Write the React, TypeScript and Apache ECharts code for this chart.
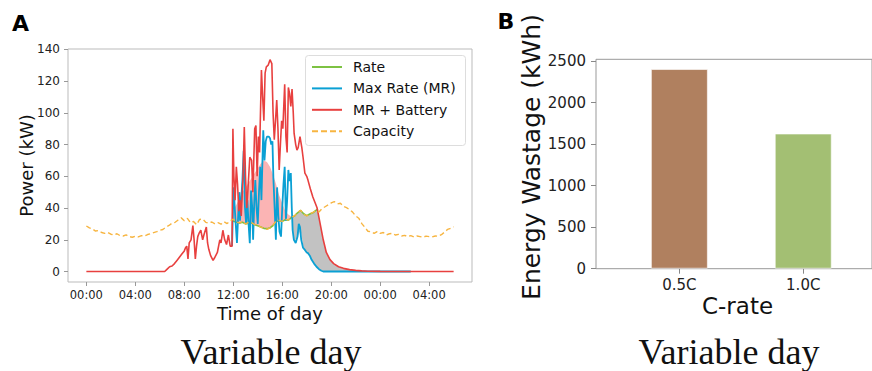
import React, { useEffect, useRef } from "react";
import * as echarts from "echarts";

// ---------- Panel A data ----------
const timeTicks = [0, 4, 8, 12, 16, 20, 24, 28];
const timeTickLabels = ["00:00", "04:00", "08:00", "12:00", "16:00", "20:00", "00:00", "04:00"];
const powerTicks = [0, 20, 40, 60, 80, 100, 120, 140];

const rateData = [
  [11.95, 32], [12.25, 31], [12.5, 30.5], [12.75, 31], [13, 30], [13.25, 30.5], [13.5, 30.5],
  [13.75, 29.5], [14, 28.8], [14.25, 28], [14.5, 27.2], [14.75, 27], [15, 27.5], [15.25, 29],
  [15.5, 31.5], [15.75, 32], [16, 31.6], [16.25, 32.6], [16.5, 32.4], [16.75, 34], [17, 35],
  [17.25, 37], [17.5, 38.5], [17.75, 36.4], [18, 35.2], [18.25, 36.2], [18.5, 37], [18.75, 38.5],
  [18.9, 39.5],
];

const maxRateData = [
  [11.9, 16], [11.97, 38], [12.05, 53], [12.12, 40], [12.2, 30], [12.3, 18], [12.4, 35], [12.5, 50],
  [12.55, 32], [12.65, 45], [12.75, 58], [12.85, 76], [12.95, 41], [13.05, 30], [13.15, 45],
  [13.25, 30], [13.35, 17.8], [13.45, 51], [13.55, 40], [13.62, 20], [13.72, 45], [13.8, 57.6],
  [13.9, 40], [14.0, 30], [14.1, 50], [14.2, 66], [14.3, 45], [14.4, 75], [14.45, 89], [14.55, 70],
  [14.65, 82], [14.75, 85], [14.9, 85], [15.0, 84], [15.1, 80], [15.2, 82], [15.28, 58], [15.38, 40],
  [15.48, 20], [15.58, 53], [15.68, 35], [15.78, 25], [15.9, 22], [16.0, 40], [16.1, 55], [16.2, 66],
  [16.3, 32], [16.4, 45], [16.5, 64], [16.6, 57], [16.7, 62], [16.78, 40], [16.85, 26], [16.95, 20],
  [17.1, 18], [17.25, 22], [17.35, 30], [17.45, 28], [17.55, 20], [17.7, 15], [17.85, 13.6],
  [18.0, 12], [18.1, 11.6], [18.25, 10], [18.4, 7.4], [18.6, 5], [18.8, 3], [19.0, 1.5], [19.2, 0.5],
  [19.35, 0], [26.5, 0],
];

const mrBatteryData = [
  [0, 0], [6.4, 0], [6.6, 1.5], [6.8, 3], [7.0, 3.5], [7.2, 5], [7.4, 7], [7.6, 9], [7.8, 11], [8.0, 13],
  [8.1, 15], [8.2, 16], [8.3, 8], [8.4, 18], [8.55, 20], [8.7, 29], [8.8, 20], [8.9, 8], [9.0, 16],
  [9.1, 22], [9.2, 24], [9.35, 26], [9.5, 20], [9.6, 23], [9.8, 28], [9.9, 18], [10.0, 14], [10.15, 10],
  [10.35, 7], [10.5, 9], [10.7, 12], [10.9, 20], [11.0, 18], [11.15, 26], [11.3, 20], [11.45, 17],
  [11.6, 23], [11.75, 16], [11.9, 16], [11.97, 90], [12.05, 60], [12.15, 45], [12.25, 66], [12.35, 55],
  [12.45, 38], [12.55, 45], [12.65, 35], [12.8, 60], [12.9, 91], [13.0, 60], [13.1, 40], [13.2, 52],
  [13.35, 72], [13.5, 70], [13.6, 50], [13.75, 90], [13.85, 92], [13.95, 60], [14.05, 85], [14.15, 75],
  [14.3, 127], [14.4, 110], [14.5, 95], [14.6, 125], [14.7, 129], [14.85, 130], [15.0, 133.5],
  [15.15, 131], [15.25, 100], [15.35, 83], [15.45, 95], [15.55, 108], [15.65, 90], [15.75, 64],
  [15.85, 80], [15.95, 95], [16.05, 90], [16.2, 118], [16.3, 85], [16.4, 75], [16.5, 116], [16.6, 112],
  [16.7, 104], [16.8, 115], [16.9, 100], [16.97, 87], [17.1, 80], [17.2, 76.5], [17.3, 78], [17.45, 85],
  [17.6, 78], [17.7, 72], [17.85, 62], [18.0, 60], [18.1, 57.6], [18.3, 52], [18.5, 47], [18.7, 43],
  [18.85, 40], [19.0, 34], [19.15, 28], [19.35, 20], [19.6, 12], [19.9, 7.5], [20.2, 5], [20.6, 3],
  [21.0, 2], [21.5, 1.2], [22.0, 0.7], [22.5, 0.4], [23.0, 0.2], [24.0, 0.1], [26.0, 0], [30.0, 0],
];

const capacityData = [
  [0, 28.7], [0.25, 27.5], [0.5, 26.8], [0.75, 25.5], [1, 25.8], [1.25, 24.6], [1.5, 24.0], [1.75, 24.6],
  [2, 23.5], [2.25, 23.0], [2.5, 23.8], [2.75, 22.6], [3, 22.4], [3.25, 23.1], [3.5, 22.0], [3.75, 21.6],
  [4, 22.3], [4.25, 21.8], [4.5, 22.6], [4.75, 22.4], [5, 23.3], [5.25, 23.8], [5.5, 24.5], [5.75, 25.1],
  [6, 26.0], [6.25, 26.5], [6.5, 28.0], [6.75, 29.0], [7, 30.5], [7.25, 31.0], [7.5, 32.5], [7.75, 33.8],
  [8, 32.0], [8.25, 33.5], [8.5, 30.8], [8.75, 31.5], [9, 29.5], [9.25, 32.8], [9.5, 33.0], [9.75, 31.0],
  [10, 30.6], [10.25, 31.2], [10.5, 30.0], [10.75, 30.8], [11, 29.8], [11.25, 31.4], [11.5, 30.2],
  [11.75, 32.0], [12, 33.0], [12.25, 31.2], [12.5, 30.6], [12.75, 31.5], [13, 30.0], [13.25, 31.0],
  [13.5, 30.8], [13.75, 29.6], [14, 29.0], [14.25, 28.0], [14.5, 27.2], [14.75, 26.6], [15, 27.5],
  [15.25, 29.2], [15.5, 31.8], [15.75, 32.2], [16, 31.6], [16.25, 33.0], [16.5, 32.4], [16.75, 34.2],
  [17, 35.0], [17.25, 37.0], [17.5, 38.6], [17.75, 36.2], [18, 35.0], [18.25, 36.4], [18.5, 37.2],
  [18.75, 38.4], [19, 37.5], [19.25, 39.6], [19.5, 40.8], [19.75, 42.0], [20, 43.2], [20.25, 44.0],
  [20.5, 42.6], [20.75, 43.0], [21, 41.0], [21.25, 40.2], [21.5, 39.0], [21.75, 37.4], [22, 35.0],
  [22.25, 33.6], [22.5, 30.2], [22.75, 27.8], [23, 25.4], [23.25, 25.0], [23.5, 24.1], [23.75, 25.2],
  [24, 24.0], [24.25, 24.6], [24.5, 23.0], [24.75, 23.8], [25, 24.1], [25.25, 23.0], [25.5, 23.4],
  [25.75, 22.4], [26, 22.8], [26.25, 22.0], [26.5, 22.6], [26.75, 21.8], [27, 22.4], [27.25, 22.0],
  [27.5, 21.6], [27.75, 22.3], [28, 22.0], [28.25, 21.8], [28.5, 22.4], [28.75, 22.2], [29, 23.2],
  [29.25, 24.8], [29.5, 26.5], [29.75, 27.2], [30, 28.2],
];

// shaded regions
const pinkUpper = [
  [11.95, 38], [12.25, 42], [12.5, 46], [12.75, 50], [13, 53], [13.25, 56], [13.5, 59], [13.75, 62],
  [14, 65], [14.25, 68], [14.5, 70], [14.75, 69], [15, 66], [15.25, 61], [15.5, 55], [15.75, 48],
  [16, 43], [16.25, 38], [16.5, 36], [16.75, 34.5], [16.9, 34],
];
const pinkLower = [
  [11.95, 32], [12.25, 31], [12.5, 30.5], [12.75, 31], [13, 30], [13.25, 30.5], [13.5, 30.5],
  [13.75, 29.5], [14, 28.8], [14.25, 28], [14.5, 27.2], [14.75, 27], [15, 27.5], [15.25, 29],
  [15.5, 31.5], [15.75, 32], [16, 31.6], [16.25, 32.6], [16.5, 32.4], [16.75, 34], [16.9, 34],
];
const grayUpper = [
  [16.85, 34], [17.0, 35], [17.25, 37], [17.5, 38.5], [17.75, 36.4], [18.0, 35.2], [18.25, 36.2],
  [18.5, 37], [18.75, 38.5], [18.9, 39.5], [19.0, 34], [19.15, 28], [19.35, 20], [19.6, 12],
  [19.9, 7.5], [20.2, 5], [20.6, 3], [21.0, 2], [21.5, 1.2], [22.0, 0.7], [22.5, 0.4],
];
const grayLower = [
  [16.85, 26], [17.0, 19], [17.25, 22], [17.5, 26], [17.75, 15], [18.0, 12], [18.25, 10],
  [18.5, 6], [18.75, 3.5], [18.9, 2.5], [19.0, 1.5], [19.15, 0.8], [19.35, 0], [19.6, 0],
  [19.9, 0], [20.2, 0], [20.6, 0], [21.0, 0], [21.5, 0], [22.0, 0], [22.5, 0],
];

// ---------- Panel B data ----------
const cRates = ["0.5C", "1.0C"];
const wastage = [2403, 1627];
const barColors = ["#b0805f", "#a3bf73"];
const wastageTicks = [0, 500, 1000, 1500, 2000, 2500];

const legendItems = [
  { name: "Rate", color: "#7dc243", dash: false },
  { name: "Max Rate (MR)", color: "#0aa0d4", dash: false },
  { name: "MR + Battery", color: "#e8403f", dash: false },
  { name: "Capacity", color: "#f7b541", dash: true },
];

const FONT = "DejaVu Sans";

export default function App() {
  const ref = useRef<HTMLDivElement>(null);

  useEffect(() => {
    const chart = echarts.init(ref.current!, null, { renderer: "svg" });

    const band = (upper: number[][], lower: number[][], color: string) => ({
      type: "custom",
      xAxisIndex: 0,
      yAxisIndex: 0,
      z: 1,
      silent: true,
      data: [upper[0]],
      renderItem: (_params: any, api: any) => {
        const pts = upper
          .map((p) => api.coord(p))
          .concat(lower.slice().reverse().map((p) => api.coord(p)));
        return { type: "polygon", shape: { points: pts }, style: { fill: color } };
      },
    });

    const lineSeries = (data: number[][], color: string, width: number, z: number, dash?: number[]) => ({
      type: "line",
      xAxisIndex: 0,
      yAxisIndex: 0,
      data,
      showSymbol: false,
      symbol: "none",
      z,
      lineStyle: { color, width, type: dash ? dash : "solid" },
      silent: true,
    });

    const legendY = [67, 88.4, 109.8, 131.2];
    const legendGraphics: any[] = [
      {
        type: "rect",
        shape: { x: 305.5, y: 55.5, width: 160, height: 90, r: 3 },
        style: { fill: "rgba(255,255,255,0.85)", stroke: "#dddddd", lineWidth: 1 },
        z: 100,
      },
    ];
    legendItems.forEach((it, i) => {
      legendGraphics.push({
        type: "line",
        shape: { x1: 312, y1: legendY[i], x2: 342, y2: legendY[i] },
        style: { stroke: it.color, lineWidth: 2, lineDash: it.dash ? [6, 3] : null },
        z: 101,
      });
      legendGraphics.push({
        type: "text",
        x: 353,
        y: legendY[i],
        style: { text: it.name, fontSize: 14, fontFamily: FONT, fill: "#111", align: "left", verticalAlign: "middle" },
        z: 101,
      });
    });

    const hiddenLine = { show: false, onZero: false };

    const option: any = {
      animation: false,
      textStyle: { fontFamily: FONT },
      grid: [
        { left: 68, top: 49, width: 404, height: 233, show: true, borderColor: "#bbbbbb", borderWidth: 1, backgroundColor: "transparent" },
        { left: 596, top: 59.3, width: 283, height: 209.4, show: true, borderColor: "#999999", borderWidth: 1, backgroundColor: "transparent" },
      ],
      xAxis: [
        {
          type: "value",
          gridIndex: 0,
          position: "bottom",
          min: -1.5,
          max: 31.5,
          axisLine: hiddenLine,
          splitLine: { show: false },
          axisTick: { show: true, length: 4, lineStyle: { color: "#999" }, customValues: timeTicks },
          axisLabel: {
            customValues: timeTicks,
            formatter: (v: number) => timeTickLabels[timeTicks.indexOf(v)] ?? "",
            fontSize: 11.5,
            fontFamily: FONT,
            color: "#222",
            margin: 7,
          },
        },
        {
          type: "value",
          gridIndex: 1,
          position: "bottom",
          min: -0.673,
          max: 1.555,
          axisLine: hiddenLine,
          splitLine: { show: false },
          axisTick: { show: true, length: 5, lineStyle: { color: "#888" }, customValues: [0, 1] },
          axisLabel: {
            customValues: [0, 1],
            formatter: (v: number) => cRates[v] ?? "",
            fontSize: 15,
            fontFamily: FONT,
            color: "#222",
            margin: 9,
          },
        },
      ],
      yAxis: [
        {
          type: "value",
          gridIndex: 0,
          position: "left",
          min: -6.6,
          max: 140.2,
          axisLine: hiddenLine,
          splitLine: { show: false },
          axisTick: { show: true, length: 4, lineStyle: { color: "#999" }, customValues: powerTicks },
          axisLabel: {
            customValues: powerTicks,
            formatter: (v: number) => String(v),
            fontSize: 12,
            fontFamily: FONT,
            color: "#222",
            margin: 8,
          },
        },
        {
          type: "value",
          gridIndex: 1,
          position: "left",
          min: 0,
          max: 2520,
          axisLine: hiddenLine,
          splitLine: { show: false },
          axisTick: { show: true, length: 5, lineStyle: { color: "#888" }, customValues: wastageTicks },
          axisLabel: {
            customValues: wastageTicks,
            formatter: (v: number) => String(v),
            fontSize: 15,
            fontFamily: FONT,
            color: "#222",
            margin: 10,
          },
        },
      ],
      series: [
        band(pinkUpper, pinkLower, "#fbb4b4"),
        band(grayUpper, grayLower, "#c2c2c2"),
        lineSeries(rateData, "#7dc243", 1.6, 2),
        lineSeries(maxRateData, "#0aa0d4", 1.8, 3),
        lineSeries(mrBatteryData, "#e8403f", 1.6, 4),
        lineSeries(capacityData, "#f7b541", 1.4, 5, [5, 3]),
        {
          type: "bar",
          xAxisIndex: 1,
          yAxisIndex: 1,
          barWidth: 57,
          silent: true,
          data: wastage.map((v, i) => ({
            value: [i, v],
            itemStyle: { color: barColors[i], borderColor: "rgba(255,255,255,0.6)", borderWidth: 1 },
          })),
        },
      ],
      graphic: [
        { type: "text", x: 20.5, y: 23.5, style: { text: "A", fontSize: 22, fontWeight: "bold", fontFamily: FONT, fill: "#000", align: "center", verticalAlign: "middle" } },
        { type: "text", x: 506, y: 21, style: { text: "B", fontSize: 22, fontWeight: "bold", fontFamily: FONT, fill: "#000", align: "center", verticalAlign: "middle" } },
        { type: "text", x: 26, y: 165.5, rotation: Math.PI / 2, style: { text: "Power (kW)", fontSize: 18, fontFamily: FONT, fill: "#111", align: "center", verticalAlign: "middle" } },
        { type: "text", x: 270, y: 313, style: { text: "Time of day", fontSize: 18, fontFamily: FONT, fill: "#111", align: "center", verticalAlign: "middle" } },
        { type: "text", x: 531.5, y: 157, rotation: Math.PI / 2, style: { text: "Energy Wastage (kWh)", fontSize: 25, fontFamily: FONT, fill: "#111", align: "center", verticalAlign: "middle" } },
        { type: "text", x: 737.5, y: 306, style: { text: "C-rate", fontSize: 23, fontFamily: FONT, fill: "#111", align: "center", verticalAlign: "middle" } },
        { type: "text", x: 271, y: 352, style: { text: "Variable day", fontSize: 36, fontFamily: "Liberation Serif", fill: "#111", align: "center", verticalAlign: "middle" } },
        { type: "text", x: 729, y: 352, style: { text: "Variable day", fontSize: 36, fontFamily: "Liberation Serif", fill: "#111", align: "center", verticalAlign: "middle" } },
        ...legendGraphics,
      ],
    };

    chart.setOption(option);
    return () => chart.dispose();
  }, []);

  return (
    <div
      ref={ref}
      style={{ position: "fixed", left: 0, top: 0, width: 872, height: 371, background: "#fff" }}
    />
  );
}
